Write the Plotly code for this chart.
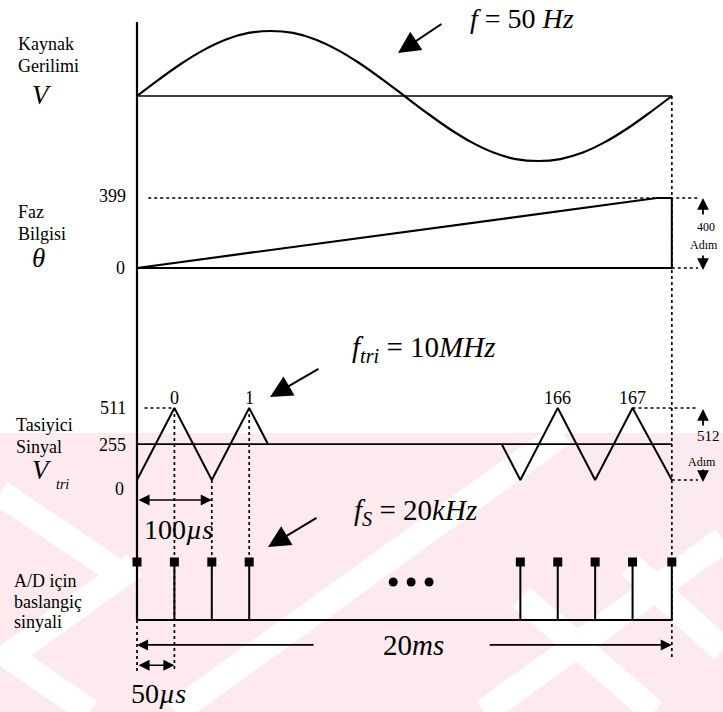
import plotly.graph_objects as go

# ---------------- data (schematic time in 50 us steps) ----------------
T_END = 14.3
sine_t = [0, 0.6, 1.19, 1.79, 2.38, 2.98, 3.58, 4.17, 4.77, 5.36, 5.96, 6.55, 7.15,
          7.75, 8.34, 8.94, 9.53, 10.13, 10.73, 11.32, 11.92, 12.51, 13.11, 13.7, 14.3]
sine_v = [0, 0.26, 0.50, 0.71, 0.87, 0.97, 1.0, 0.97, 0.87, 0.71, 0.50, 0.26, 0,
          -0.26, -0.50, -0.71, -0.87, -0.97, -1.0, -0.97, -0.87, -0.71, -0.50, -0.26, 0]
phase_t = [0, 13.9, 14.3]
phase_v = [0, 399, 399]
phase_levels = [0, 399]
tri_left_t = [0, 1, 2, 3, 3.5]
tri_left_v = [0, 511, 0, 511, 255]
tri_right_t = [9.75, 10.25, 11.25, 12.25, 13.25, 14.3]
tri_right_v = [255, 0, 511, 0, 511, 0]
tri_levels = [0, 255, 511]
peak_t = [1, 3, 11.25, 13.25]
peak_labels = ["0", "1", "166", "167"]
pulse_t = [0, 1, 2, 3, 10.25, 11.25, 12.25, 13.25, 14.3]
ellipsis_t = [6.85, 7.33, 7.81]

# ---------------- layout helpers ----------------
W, H = 723, 712
X0_PX, STEP_PX = 137, 37.4
xr = [(0 - X0_PX) / STEP_PX, (W - X0_PX) / STEP_PX]


def yrange(v0, py0, v1, py1):
    s = (py0 - py1) / (v1 - v0)
    return [v0 - (H - py0) / s, v0 + py0 / s]


R = {
    "y": yrange(0, 96, 1, 31),
    "y2": yrange(0, 268, 399, 198),
    "y3": yrange(0, 480, 511, 408),
    "y4": yrange(0, 620, 1, 562),
}


def yp(ax, v):
    r = R[ax]
    return (v - r[0]) / (r[1] - r[0])


def P(px, py):
    return px / W, 1 - py / H


BLACK = "black"
FONT = "Liberation Serif, Times New Roman, serif"
fig = go.Figure()


def line(x, y, ax, width=1.8, dash=None, shape="linear"):
    fig.add_trace(go.Scatter(x=x, y=y, yaxis=ax, mode="lines", hoverinfo="skip",
                             line=dict(color=BLACK, width=width, dash=dash, shape=shape),
                             showlegend=False))


# sine panel
line(sine_t, sine_v, "y", 2.2, shape="spline")
line([0, T_END], [0, 0], "y", 1.7)
# phase panel
line(phase_t, phase_v, "y2", 2.2)
line([0, T_END, T_END], [0, 0, phase_v[-1]], "y2", 2)
line([0.3, 15.0], [phase_levels[1]] * 2, "y2", 1.7, "dot")
line([T_END, 15.0], [0, 0], "y2", 1.7, "dot")
# triangle panel
line([0, T_END], [tri_levels[1]] * 2, "y3", 1.7)
line(tri_left_t, tri_left_v, "y3", 2)
line(tri_right_t, tri_right_v, "y3", 2)
line([0.2, 0.95], [511, 511], "y3", 1.7, "dot")
line([13.25, 14.97], [511, 511], "y3", 1.7, "dot")
line([T_END, 15.0], [0, 0], "y3", 1.7, "dot")
# pulse panel
sx, sy = [], []
for t in pulse_t:
    sx += [t, t, None]
    sy += [0, 1, None]
line(sx, sy, "y4", 2)
line([0, T_END], [0, 0], "y4", 2)
fig.add_trace(go.Scatter(x=pulse_t, y=[1] * len(pulse_t), yaxis="y4", mode="markers",
                         marker=dict(symbol="square", size=9, color=BLACK),
                         showlegend=False, hoverinfo="skip"))
fig.add_trace(go.Scatter(x=ellipsis_t, y=[0.655] * 3, yaxis="y4", mode="markers",
                         marker=dict(symbol="circle", size=9, color=BLACK),
                         showlegend=False, hoverinfo="skip"))

shapes = []
# watermark (pale pink with white chevron bands)
PINK = "#fdeaee"
shapes.append(dict(type="rect", xref="paper", yref="paper", x0=0, x1=1,
                   y0=0, y1=P(0, 433)[1], fillcolor=PINK, line_width=0, layer="below"))
for (a, b) in [((0, 493), (125, 577)), ((0, 662), (135, 565)),
               ((175, 712), (563, 433)), ((484, 712), (723, 540)),
               ((521, 597), (654, 712)), ((630, 565), (723, 650)),
               ((0, 650), (90, 712))]:
    x0, y0 = P(*a)
    x1, y1 = P(*b)
    shapes.append(dict(type="line", xref="paper", yref="paper", x0=x0, y0=y0,
                       x1=x1, y1=y1, line=dict(color="white", width=26), layer="below"))

# main vertical axis line
shapes.append(dict(type="line", xref="x", yref="paper", x0=0, x1=0,
                   y0=yp("y4", 0), y1=yp("y", 1.14), line=dict(color=BLACK, width=2.2)))
# dotted connectors
DOT = dict(color=BLACK, width=1.7, dash="dot")
for x, ya, yb in [(1, yp("y3", 511), yp("y4", -0.86)),
                  (2, yp("y3", 0), yp("y4", 1)),
                  (3, yp("y3", 511), yp("y4", 1)),
                  (0, yp("y4", 0), yp("y4", -0.9)),
                  (T_END, yp("y", 0), yp("y4", -0.65))]:
    shapes.append(dict(type="line", xref="x", yref="paper", x0=x, x1=x, y0=ya, y1=yb, line=DOT))

ann = []


def txt(px, py, s, size=18, xanchor="center"):
    x, y = P(px, py)
    ann.append(dict(x=x, y=y, xref="paper", yref="paper", text=s, showarrow=False,
                    xanchor=xanchor, yanchor="middle",
                    font=dict(family=FONT, size=size, color=BLACK)))


def arrow_px(hx, hy, dx, dy, size=1.5, width=1.5):
    x, y = P(hx, hy)
    ann.append(dict(x=x, y=y, xref="paper", yref="paper", ax=dx, ay=dy, text="",
                    showarrow=True, arrowhead=2, arrowsize=size, arrowwidth=width,
                    arrowcolor=BLACK))


def arrow_data(hx, tx, yv, yaxis, both=False):
    ann.append(dict(x=hx, y=yv, xref="x", yref=yaxis, ax=tx, ay=yv, axref="x", ayref=yaxis,
                    text="", showarrow=True, arrowhead=2, arrowsize=1.3, arrowwidth=1.7,
                    arrowcolor=BLACK, arrowside="end+start" if both else "end"))


# left titles
txt(16, 44, "Kaynak", xanchor="left")
txt(16, 66, "Gerilimi", xanchor="left")
txt(42, 95, "<i>V</i>", 27)
txt(16, 212, "Faz", xanchor="left")
txt(16, 234, "Bilgisi", xanchor="left")
txt(38, 258, "<i>θ</i>", 27)
txt(14, 425, "Tasiyici", xanchor="left")
txt(14, 447, "Sinyal", xanchor="left")
txt(42, 470, "<i>V</i>", 27)
txt(62, 484, "<i>tri</i>", 14)
txt(12, 581, "A/D için", xanchor="left")
txt(12, 602, "baslangiç", xanchor="left")
txt(12, 622, "sinyali", xanchor="left")

# level labels
txt(128, 196, str(phase_levels[1]), xanchor="right")
txt(127, 268, str(phase_levels[0]), xanchor="right")
txt(128, 408, str(tri_levels[2]), xanchor="right")
txt(128, 445, str(tri_levels[1]), xanchor="right")
txt(126, 489, str(tri_levels[0]), xanchor="right")
for t, lab in zip(peak_t, peak_labels):
    ann.append(dict(x=t, y=yp("y3", 511) + 10 / H, xref="x", yref="paper", text=lab,
                    showarrow=False, yanchor="middle",
                    font=dict(family=FONT, size=18, color=BLACK)))

# frequency labels
txt(522, 18, "<i>f</i> = 50 <i>Hz</i>", 28)
txt(423, 349, "<i>f</i><sub><i>tri</i></sub> = 10<i>MHz</i>", 29)
txt(416, 512, "<i>f</i><sub><i>S</i></sub> = 20<i>kHz</i>", 29)
arrow_px(398, 53, 45, -30, 2.2, 2)
arrow_px(270, 397, 50, -29, 2.2, 2)
arrow_px(268, 547, 50, -30, 2.2, 2)

# step annotations on the right
txt(706, 227, "400", 12)
txt(688, 245, "Adım", 12, xanchor="left")
arrow_px(703, 198, 0, 18, 1.3, 1.8)
arrow_px(703, 270, 0, -16, 1.3, 1.8)
txt(708, 436, "512", 15)
txt(686, 462, "Adım", 12, xanchor="left")
arrow_px(703, 409, 0, 18, 1.3, 1.8)
arrow_px(703, 482, 0, -14, 1.3, 1.8)

# time spans
arrow_data(2, 0, -142, "y3", both=True)
txt(178, 529, "100<i>µs</i>", 28)
arrow_data(0, 4.76, -0.43, "y4")
arrow_data(T_END, 9.39, -0.43, "y4")
txt(413, 645, "20<i>ms</i>", 29)
arrow_data(1, 0, -0.78, "y4", both=True)
txt(158, 693, "50<i>µs</i>", 28)

ax_common = dict(visible=False, showgrid=False, zeroline=False, fixedrange=True)
fig.update_layout(
    width=W, height=H, margin=dict(l=0, r=0, t=0, b=0),
    paper_bgcolor="white", plot_bgcolor="rgba(0,0,0,0)",
    xaxis=dict(range=xr, domain=[0, 1], **ax_common),
    yaxis=dict(range=R["y"], domain=[0, 1], **ax_common),
    yaxis2=dict(range=R["y2"], overlaying="y", **ax_common),
    yaxis3=dict(range=R["y3"], overlaying="y", **ax_common),
    yaxis4=dict(range=R["y4"], overlaying="y", **ax_common),
    shapes=shapes, annotations=ann, showlegend=False,
)
fig.write_html("out.html", config={"displayModeBar": False},
               post_script="document.body.style.margin='0';document.body.style.overflow='hidden';")
